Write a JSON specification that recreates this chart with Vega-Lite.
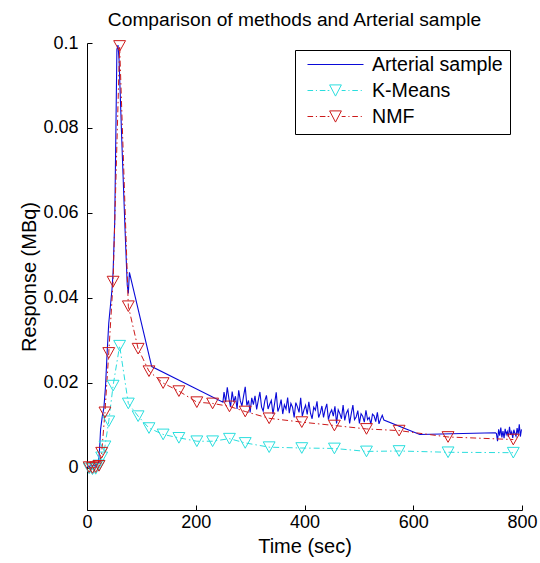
{
  "$schema": "https://vega.github.io/schema/vega-lite/v6.json",
  "width": 435,
  "height": 467,
  "autosize": {"type": "none"},
  "padding": {"left": 87, "top": 43, "right": 18, "bottom": 53},
  "background": "white",
  "config": {
    "view": {"stroke": null},
    "font": "Liberation Sans",
    "axis": {
      "grid": false,
      "domainColor": "black",
      "domainWidth": 1,
      "tickColor": "black",
      "tickWidth": 1,
      "tickSize": -5,
      "labelColor": "black",
      "labelFont": "Liberation Sans",
      "labelFontSize": 18,
      "labelFlush": false,
      "labelOverlap": false,
      "titleColor": "black",
      "titleFont": "Liberation Sans",
      "titleFontSize": 20,
      "titleFontWeight": "normal"
    }
  },
  "title": {
    "text": "Comparison of methods and Arterial sample",
    "font": "Liberation Sans",
    "fontSize": 19.2,
    "fontWeight": "normal",
    "color": "black",
    "anchor": "middle",
    "dx": -10,
    "offset": 4
  },
  "datasets": {
    "arterial": [
      {"time": 0, "response": 0.0003}, {"time": 3, "response": 0.0}, {"time": 6, "response": 0.0005}, {"time": 9, "response": 0.0002},
      {"time": 12, "response": 0.0006}, {"time": 15, "response": 0.0003}, {"time": 18, "response": 0.0008}, {"time": 21, "response": 0.001},
      {"time": 23, "response": 0.004}, {"time": 25, "response": 0.009}, {"time": 28, "response": 0.012}, {"time": 31, "response": 0.014},
      {"time": 34, "response": 0.019}, {"time": 37, "response": 0.027}, {"time": 40, "response": 0.034}, {"time": 43, "response": 0.038},
      {"time": 46, "response": 0.042}, {"time": 48, "response": 0.046}, {"time": 51, "response": 0.058}, {"time": 53, "response": 0.078},
      {"time": 55, "response": 0.0985}, {"time": 57, "response": 0.0995}, {"time": 59, "response": 0.096}, {"time": 64, "response": 0.077},
      {"time": 70, "response": 0.056}, {"time": 74, "response": 0.043}, {"time": 76, "response": 0.041}, {"time": 78, "response": 0.046},
      {"time": 119, "response": 0.0238}, {"time": 250, "response": 0.0154},
      {"time": 252, "response": 0.0178}, {"time": 255, "response": 0.0154}, {"time": 258, "response": 0.0189}, {"time": 261, "response": 0.0162},
      {"time": 264, "response": 0.0143}, {"time": 267, "response": 0.0179}, {"time": 270, "response": 0.0154}, {"time": 273, "response": 0.0168},
      {"time": 276, "response": 0.0138}, {"time": 279, "response": 0.0182}, {"time": 282, "response": 0.0157}, {"time": 285, "response": 0.0145},
      {"time": 288, "response": 0.0169}, {"time": 291, "response": 0.019}, {"time": 294, "response": 0.0146}, {"time": 297, "response": 0.0158},
      {"time": 300, "response": 0.013}, {"time": 303, "response": 0.0164}, {"time": 306, "response": 0.0148}, {"time": 309, "response": 0.0169},
      {"time": 312, "response": 0.0137}, {"time": 315, "response": 0.0158}, {"time": 318, "response": 0.0178}, {"time": 321, "response": 0.0143},
      {"time": 324, "response": 0.0133}, {"time": 327, "response": 0.0157}, {"time": 330, "response": 0.017}, {"time": 333, "response": 0.0138},
      {"time": 336, "response": 0.0149}, {"time": 339, "response": 0.0158}, {"time": 342, "response": 0.0126}, {"time": 345, "response": 0.0151},
      {"time": 348, "response": 0.0177}, {"time": 351, "response": 0.0132}, {"time": 354, "response": 0.0143}, {"time": 357, "response": 0.016},
      {"time": 360, "response": 0.0126}, {"time": 363, "response": 0.0148}, {"time": 366, "response": 0.0138}, {"time": 369, "response": 0.0165},
      {"time": 372, "response": 0.0128}, {"time": 375, "response": 0.0151}, {"time": 378, "response": 0.0142}, {"time": 381, "response": 0.0118},
      {"time": 384, "response": 0.0153}, {"time": 387, "response": 0.0143}, {"time": 390, "response": 0.013}, {"time": 393, "response": 0.0164},
      {"time": 396, "response": 0.0121}, {"time": 399, "response": 0.0136}, {"time": 402, "response": 0.0147}, {"time": 405, "response": 0.0125},
      {"time": 408, "response": 0.0155}, {"time": 411, "response": 0.0128}, {"time": 414, "response": 0.0115}, {"time": 417, "response": 0.0142},
      {"time": 420, "response": 0.0135}, {"time": 423, "response": 0.0156}, {"time": 426, "response": 0.0118}, {"time": 429, "response": 0.0128},
      {"time": 432, "response": 0.0145}, {"time": 435, "response": 0.0118}, {"time": 438, "response": 0.0137}, {"time": 441, "response": 0.015},
      {"time": 444, "response": 0.0113}, {"time": 447, "response": 0.0128}, {"time": 450, "response": 0.0136}, {"time": 453, "response": 0.0121},
      {"time": 456, "response": 0.0144}, {"time": 459, "response": 0.0104}, {"time": 462, "response": 0.0136}, {"time": 465, "response": 0.0127},
      {"time": 468, "response": 0.0115}, {"time": 471, "response": 0.0147}, {"time": 474, "response": 0.0111}, {"time": 477, "response": 0.0128},
      {"time": 480, "response": 0.0136}, {"time": 483, "response": 0.0104}, {"time": 486, "response": 0.0127}, {"time": 489, "response": 0.0147},
      {"time": 492, "response": 0.0113}, {"time": 495, "response": 0.0119}, {"time": 498, "response": 0.0134}, {"time": 501, "response": 0.0104},
      {"time": 504, "response": 0.0127}, {"time": 507, "response": 0.0121}, {"time": 510, "response": 0.0107}, {"time": 513, "response": 0.0135},
      {"time": 516, "response": 0.0113}, {"time": 519, "response": 0.0118}, {"time": 522, "response": 0.0102}, {"time": 525, "response": 0.0126},
      {"time": 528, "response": 0.0122}, {"time": 531, "response": 0.0108}, {"time": 534, "response": 0.013}, {"time": 537, "response": 0.0103},
      {"time": 540, "response": 0.0114}, {"time": 543, "response": 0.0123}, {"time": 546, "response": 0.0112},
      {"time": 612, "response": 0.0078}, {"time": 751, "response": 0.0082},
      {"time": 753, "response": 0.008}, {"time": 755, "response": 0.0062}, {"time": 757, "response": 0.009}, {"time": 759, "response": 0.0075},
      {"time": 761, "response": 0.0094}, {"time": 763, "response": 0.0071}, {"time": 765, "response": 0.0086}, {"time": 767, "response": 0.0069},
      {"time": 769, "response": 0.0091}, {"time": 771, "response": 0.0078}, {"time": 773, "response": 0.0085}, {"time": 775, "response": 0.0072},
      {"time": 777, "response": 0.0096}, {"time": 779, "response": 0.0077}, {"time": 781, "response": 0.0084}, {"time": 783, "response": 0.007},
      {"time": 785, "response": 0.0089}, {"time": 787, "response": 0.008}, {"time": 789, "response": 0.0074}, {"time": 791, "response": 0.0093},
      {"time": 793, "response": 0.0078}, {"time": 795, "response": 0.0102}, {"time": 797, "response": 0.0073}, {"time": 799, "response": 0.009}
    ],
    "methods": [
      {"series": "K-Means", "time": 4, "response": -0.0002}, {"series": "K-Means", "time": 10, "response": -0.0004},
      {"series": "K-Means", "time": 16, "response": -0.0003}, {"series": "K-Means", "time": 22, "response": 0.0005},
      {"series": "K-Means", "time": 27, "response": 0.0024}, {"series": "K-Means", "time": 33, "response": 0.005},
      {"series": "K-Means", "time": 40, "response": 0.0109}, {"series": "K-Means", "time": 48, "response": 0.0193},
      {"series": "K-Means", "time": 60, "response": 0.0287}, {"series": "K-Means", "time": 76, "response": 0.0151},
      {"series": "K-Means", "time": 94, "response": 0.0121}, {"series": "K-Means", "time": 114, "response": 0.0093},
      {"series": "K-Means", "time": 140, "response": 0.0078}, {"series": "K-Means", "time": 169, "response": 0.007},
      {"series": "K-Means", "time": 202, "response": 0.0062}, {"series": "K-Means", "time": 231, "response": 0.0062},
      {"series": "K-Means", "time": 262, "response": 0.0068}, {"series": "K-Means", "time": 291, "response": 0.0058},
      {"series": "K-Means", "time": 335, "response": 0.0048}, {"series": "K-Means", "time": 395, "response": 0.0046},
      {"series": "K-Means", "time": 455, "response": 0.0045}, {"series": "K-Means", "time": 514, "response": 0.0038},
      {"series": "K-Means", "time": 574, "response": 0.0039}, {"series": "K-Means", "time": 664, "response": 0.0036},
      {"series": "K-Means", "time": 784, "response": 0.0035},
      {"series": "NMF", "time": 4, "response": 0.0001}, {"series": "NMF", "time": 10, "response": -0.0001},
      {"series": "NMF", "time": 16, "response": 0.0001}, {"series": "NMF", "time": 22, "response": 0.0004},
      {"series": "NMF", "time": 27, "response": 0.0035}, {"series": "NMF", "time": 33, "response": 0.013},
      {"series": "NMF", "time": 40, "response": 0.027}, {"series": "NMF", "time": 48, "response": 0.0438},
      {"series": "NMF", "time": 60, "response": 0.0993}, {"series": "NMF", "time": 76, "response": 0.038},
      {"series": "NMF", "time": 94, "response": 0.028}, {"series": "NMF", "time": 114, "response": 0.0227},
      {"series": "NMF", "time": 140, "response": 0.0199}, {"series": "NMF", "time": 169, "response": 0.018},
      {"series": "NMF", "time": 202, "response": 0.0154}, {"series": "NMF", "time": 231, "response": 0.0151},
      {"series": "NMF", "time": 262, "response": 0.0144}, {"series": "NMF", "time": 291, "response": 0.0132},
      {"series": "NMF", "time": 335, "response": 0.0116}, {"series": "NMF", "time": 395, "response": 0.0107},
      {"series": "NMF", "time": 455, "response": 0.0099}, {"series": "NMF", "time": 514, "response": 0.0091},
      {"series": "NMF", "time": 574, "response": 0.0087}, {"series": "NMF", "time": 664, "response": 0.0072},
      {"series": "NMF", "time": 784, "response": 0.0066}
    ]
  },
  "layer": [
    {
      "data": {"name": "arterial"},
      "mark": {"type": "line", "color": "#0a0ad8", "strokeWidth": 1.1, "clip": true},
      "encoding": {
        "x": {
          "field": "time", "type": "quantitative",
          "scale": {"domain": [0, 800], "nice": false, "zero": false},
          "axis": {"values": [0, 200, 400, 600, 800], "title": "Time (sec)", "labelPadding": 8, "titlePadding": 5}
        },
        "y": {
          "field": "response", "type": "quantitative",
          "scale": {"domain": [-0.01, 0.1], "nice": false, "zero": false},
          "axis": {"values": [0, 0.02, 0.04, 0.06, 0.08, 0.1], "format": "~g", "title": "Response (MBq)", "labelPadding": 14, "titlePadding": 3}
        }
      }
    },
    {
      "data": {"name": "methods"},
      "mark": {"type": "line", "strokeWidth": 1, "clip": true},
      "encoding": {
        "x": {"field": "time", "type": "quantitative"},
        "y": {"field": "response", "type": "quantitative"},
        "color": {
          "field": "series", "type": "nominal",
          "scale": {"domain": ["K-Means", "NMF"], "range": ["#2adede", "#cc1a1a"]},
          "legend": null
        },
        "strokeDash": {
          "field": "series", "type": "nominal",
          "scale": {"domain": ["K-Means", "NMF"], "range": [[6, 3, 1.5, 3], [6, 3, 1.5, 3]]},
          "legend": null
        }
      }
    },
    {
      "data": {"name": "methods"},
      "mark": {"type": "point", "filled": false, "shape": "M-1,-0.9L1,-0.9L0,0.9Z", "size": 140, "strokeWidth": 1, "opacity": 1},
      "encoding": {
        "x": {"field": "time", "type": "quantitative"},
        "y": {"field": "response", "type": "quantitative"},
        "color": {"field": "series", "type": "nominal", "legend": null}
      }
    },
    {
      "data": {"name": "methods"},
      "transform": [{"filter": "false"}],
      "mark": {"type": "point", "filled": false, "strokeWidth": 1, "opacity": 1},
      "encoding": {
        "stroke": {
          "field": "series", "type": "nominal",
          "scale": {"domain": ["Arterial sample", "K-Means", "NMF"], "range": ["#0a0ad8", "#2adede", "#cc1a1a"]},
          "legend": {
            "title": null,
            "orient": "none",
            "legendX": 208,
            "legendY": 7,
            "strokeColor": "black",
            "fillColor": "white",
            "padding": 7,
            "symbolSize": 3136,
            "symbolStrokeWidth": 1,
            "symbolOffset": 5,
            "labelOffset": 8,
            "clipHeight": 15,
            "rowPadding": 5,
            "labelFont": "Liberation Sans",
            "labelFontSize": 19.6,
            "labelColor": "black",
            "labelLimit": 300
          }
        },
        "shape": {
          "field": "series", "type": "nominal",
          "scale": {
            "domain": ["Arterial sample", "K-Means", "NMF"],
            "range": [
              "M-1,0H1",
              "M-1,0H-0.8M-0.7,0H-0.66M-0.56,0H-0.36M-0.28,0H-0.22M-0.21,-0.2L0.21,-0.2L0,0.2ZM0.22,0H0.36M0.46,0H0.5M0.6,0H0.8M0.9,0H0.94",
              "M-1,0H-0.8M-0.7,0H-0.66M-0.56,0H-0.36M-0.28,0H-0.22M-0.21,-0.2L0.21,-0.2L0,0.2ZM0.22,0H0.36M0.46,0H0.5M0.6,0H0.8M0.9,0H0.94"
            ]
          }
        }
      }
    }
  ]
}
